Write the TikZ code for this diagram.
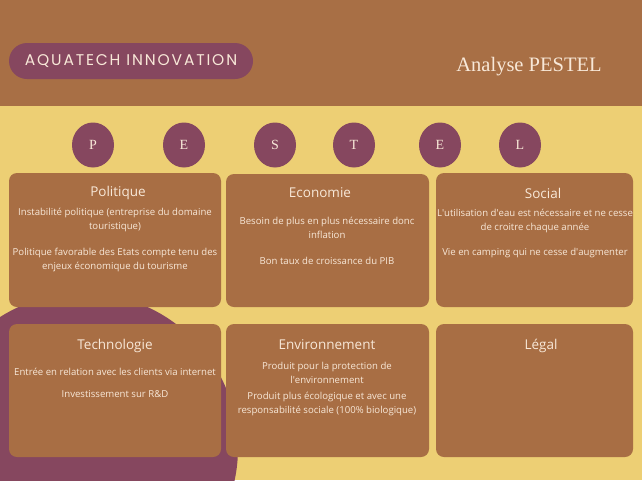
\documentclass[tikz,border=0pt]{standalone}
\usepackage{fontspec}
\setmainfont{Open Sans}[Ligatures=ResetAll]
\newfontfamily\brandfont[LetterSpace=12]{Poppins}
\newfontfamily\titlefont{Liberation Serif}
\usetikzlibrary{shapes.geometric}
\definecolor{band}{HTML}{A86F45}
\definecolor{sand}{HTML}{EDCF74}
\definecolor{plum}{HTML}{86475F}
\definecolor{card}{HTML}{A86E44}
\definecolor{cream}{HTML}{F8E8D8}
\newcommand{\apos}{\textquotesingle}
\begin{document}
\begin{tikzpicture}[x=1pt,y=-1pt,
  cardbox/.style={fill=card, rounded corners=8pt, inner sep=0pt},
  letterdot/.style={ellipse, fill=plum, minimum width=42pt, minimum height=45pt, inner sep=0pt,
    text=cream, font=\titlefont\fontsize{14}{14}\selectfont},
  cardtitle/.style={text=cream, font=\fontsize{13.5}{16}\selectfont, inner sep=0pt},
  cardtext/.style={text=cream, align=center, font=\fontsize{9.6}{14}\selectfont, inner sep=0pt}]
\useasboundingbox (0,0) rectangle (642,480);
% background
\fill[sand] (0,0) rectangle (642,480);
\fill[band] (0,0) rectangle (642,106);
\begin{scope}
  \clip (0,106) rectangle (642,480);
  \fill[plum] (83,448) circle[radius=155pt];
\end{scope}
% header
\node[fill=plum, rounded corners=18pt, minimum width=244pt, minimum height=36pt, inner sep=0pt,
  text=cream, font=\brandfont\fontsize{15.5}{16}\selectfont] (brand) at (131,61) {AQUATECH INNOVATION};
\node[text=cream, font=\titlefont\fontsize{20.5}{22}\selectfont, inner sep=0pt] (heading) at (529,67) {Analyse PESTEL};
% letter badges
\node[letterdot] (lp) at (93,145) {P};
\node[letterdot] (le) at (184,145) {E};
\node[letterdot] (ls) at (275,145) {S};
\node[letterdot] (lt) at (354,145) {T};
\node[letterdot] (le2) at (440,145) {E};
\node[letterdot] (ll) at (520,145) {L};
% cards, first row
\node[cardbox, minimum width=212pt, minimum height=134pt] (pol) at (115,240) {};
\node[cardbox, minimum width=203pt, minimum height=133pt] (eco) at (327.5,240.5) {};
\node[cardbox, minimum width=197pt, minimum height=134pt] (soc) at (534.5,240) {};
% cards, second row
\node[cardbox, minimum width=212pt, minimum height=133pt] (tec) at (115,390.5) {};
\node[cardbox, minimum width=203pt, minimum height=133pt] (env) at (327.5,390.5) {};
\node[cardbox, minimum width=197pt, minimum height=133pt] (leg) at (534.5,390.5) {};
% card contents
\node[cardtitle] (polt) at (118,193) {Politique};
\node[cardtext] (polp1) at (115,220) {Instabilité politique (entreprise du domaine\\touristique)};
\node[cardtext] (polp2) at (115,259.5) {Politique favorable des Etats compte tenu des\\enjeux économique du tourisme};
\node[cardtitle] (ecot) at (320,193) {Economie};
\node[cardtext] (ecop1) at (327,228) {Besoin de plus en plus nécessaire donc\\inflation};
\node[cardtext] (ecop2) at (327,261) {Bon taux de croissance du PIB};
\node[cardtitle] (soct) at (543,193) {Social};
\node[cardtext] (socp1) at (535,221) {L\apos utilisation d\apos eau est nécessaire et ne cesse\\de croitre chaque année};
\node[cardtext] (socp2) at (535,253) {Vie en camping qui ne cesse d\apos augmenter};
\node[cardtitle] (tect) at (115,346) {Technologie};
\node[cardtext] (tecp1) at (115,372) {Entrée en relation avec les clients via internet};
\node[cardtext] (tecp2) at (115,394) {Investissement sur R\&D};
\node[cardtitle] (envt) at (327,345) {Environnement};
\node[cardtext] (envp1) at (327,373) {Produit pour la protection de\\l\apos environnement};
\node[cardtext] (envp2) at (327,404) {Produit plus écologique et avec une\\responsabilité sociale (100\% biologique)};
\node[cardtitle] (legt) at (541,346) {Légal};
\end{tikzpicture}
\end{document}
